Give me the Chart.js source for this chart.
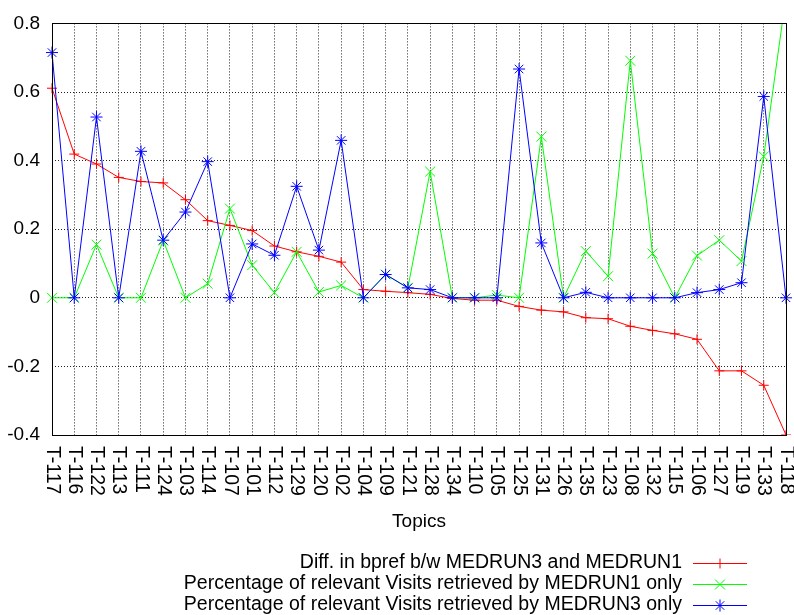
<!DOCTYPE html>
<html>
<head>
<meta charset="utf-8">
<script src="https://cdn.jsdelivr.net/npm/chart.js@4/dist/chart.umd.min.js"></script>
<style>
  html, body { margin: 0; padding: 0; background: #fff; }
  #wrap { width: 794px; height: 615px; }
</style>
</head>
<body>
<div id="wrap"><canvas id="topicChart" width="794" height="615"></canvas></div>
<script>
const FONT = "'Liberation Sans', Arial, sans-serif";
const FONT_SIZE = 19;
const KEY_FONT_SIZE = 19.5;

// topics, sorted by bpref difference
const topics = ['T-117', 'T-116', 'T-122', 'T-113', 'T-111', 'T-124', 'T-103', 'T-114', 'T-107', 'T-101',
  'T-112', 'T-129', 'T-120', 'T-102', 'T-104', 'T-109', 'T-121', 'T-128', 'T-134', 'T-110',
  'T-105', 'T-125', 'T-131', 'T-126', 'T-135', 'T-123', 'T-108', 'T-132', 'T-115', 'T-106',
  'T-127', 'T-119', 'T-133', 'T-118'];

const diffBpref = [0.611, 0.419, 0.390, 0.351, 0.339, 0.335, 0.286, 0.225, 0.211, 0.196,
  0.151, 0.134, 0.121, 0.104, 0.024, 0.019, 0.015, 0.010, -0.002, -0.007,
  -0.007, -0.025, -0.036, -0.041, -0.058, -0.061, -0.083, -0.095, -0.105, -0.121,
  -0.213, -0.213, -0.255, -0.400];

const medrun1Only = [0, 0, 0.155, 0, 0, 0.167, 0, 0.041, 0.260, 0.095,
  0.015, 0.134, 0.017, 0.036, 0, 0.068, 0.029, 0.368, 0, 0,
  0.008, 0, 0.470, 0, 0.136, 0.063, 0.691, 0.129, 0, 0.123,
  0.168, 0.107, 0.412, 0.88];

const medrun3Only = [0.715, 0, 0.527, 0, 0.427, 0.168, 0.250, 0.397, 0, 0.157,
  0.124, 0.325, 0.139, 0.459, 0, 0.068, 0.029, 0.024, 0, 0,
  0, 0.667, 0.160, 0, 0.016, 0, 0, 0, 0, 0.015,
  0.024, 0.044, 0.587, 0];

const yTicks = [-0.4, -0.2, 0, 0.2, 0.4, 0.6, 0.8];

const seriesLabels = [
  'Diff. in bpref b/w MEDRUN3 and MEDRUN1',
  'Percentage of relevant Visits retrieved by MEDRUN1 only',
  'Percentage of relevant Visits retrieved by MEDRUN3 only'
];

// rotated topic labels, axis title, frame and key
const decorations = {
  id: 'decorations',
  afterDraw(chart) {
    const ctx = chart.ctx;
    const area = chart.chartArea;
    const xScale = chart.scales.x;
    ctx.save();

    // frame
    ctx.strokeStyle = '#000';
    ctx.lineWidth = 1;
    ctx.setLineDash([]);
    ctx.strokeRect(Math.round(area.left) + 0.5, Math.round(area.top) + 0.5,
      Math.round(area.right - area.left), Math.round(area.bottom - area.top));

    // topic labels, reading downwards
    ctx.fillStyle = '#000';
    ctx.font = KEY_FONT_SIZE + 'px ' + FONT;
    ctx.textAlign = 'left';
    ctx.textBaseline = 'middle';
    topics.forEach((t, i) => {
      const x = xScale.getPixelForValue(i);
      ctx.save();
      ctx.translate(x, area.bottom + 11);
      ctx.rotate(Math.PI / 2);
      ctx.fillText(t, 0, 0);
      ctx.restore();
    });

    // axis title
    ctx.font = FONT_SIZE + 'px ' + FONT;
    ctx.textAlign = 'center';
    ctx.fillText('Topics', (area.left + area.right) / 2, 522);

    // key
    ctx.font = KEY_FONT_SIZE + 'px ' + FONT;
    const rowY = [563, 584, 605];
    chart.data.datasets.forEach((ds, i) => {
      const y = rowY[i];
      ctx.textAlign = 'right';
      ctx.fillStyle = '#000';
      ctx.fillText(ds.label, 682, y);
      ctx.strokeStyle = ds.borderColor;
      ctx.lineWidth = 1;
      ctx.beginPath();
      ctx.moveTo(693, y + 0.5);
      ctx.lineTo(747, y + 0.5);
      ctx.stroke();
      Chart.helpers.drawPoint(ctx, {
        pointStyle: ds.pointStyle,
        radius: ds.pointRadius,
        rotation: 0,
        borderWidth: 1
      }, 720, y + 0.5);
    });
    ctx.restore();
  }
};

const ctx = document.getElementById('topicChart').getContext('2d');
const topicChart = new Chart(ctx, {
  type: 'line',
  data: {
    labels: topics,
    datasets: [{
      label: seriesLabels[0],
      data: diffBpref,
      borderColor: '#ff0000',
      backgroundColor: '#ff0000',
      pointStyle: 'cross',
      pointRadius: 5,
      order: 3
    }, {
      label: seriesLabels[1],
      data: medrun1Only,
      borderColor: '#00ff00',
      backgroundColor: '#00ff00',
      pointStyle: 'crossRot',
      pointRadius: 7,
      order: 2
    }, {
      label: seriesLabels[2],
      data: medrun3Only,
      borderColor: '#0000ff',
      backgroundColor: '#0000ff',
      pointStyle: 'star',
      pointRadius: 6,
      order: 1
    }]
  },
  options: {
    responsive: false,
    animation: false,
    events: [],
    layout: { padding: { left: 0, right: 8, top: 23, bottom: 0 } },
    elements: {
      line: { borderWidth: 1, tension: 0, fill: false },
      point: { borderWidth: 1, hoverRadius: 0 }
    },
    plugins: {
      legend: { display: false },
      tooltip: { enabled: false }
    },
    scales: {
      x: {
        type: 'category',
        offset: false,
        grid: { color: '#222', drawTicks: false },
        border: { display: false, dash: [1, 2] },
        ticks: { display: false },
        afterFit(scale) { scale.height = 180; }
      },
      y: {
        min: yTicks[0],
        max: yTicks[yTicks.length - 1],
        afterBuildTicks(scale) { scale.ticks = yTicks.map(v => ({ value: v })); },
        grid: { color: '#222', drawTicks: false },
        border: { display: false, dash: [1, 2] },
        ticks: {
          padding: 12,
          color: '#000',
          font: { family: FONT, size: FONT_SIZE },
          callback: v => String(Math.round(v * 10) / 10)
        },
        afterFit(scale) { scale.width = 52; }
      }
    }
  },
  plugins: [decorations]
});
</script>
</body>
</html>
